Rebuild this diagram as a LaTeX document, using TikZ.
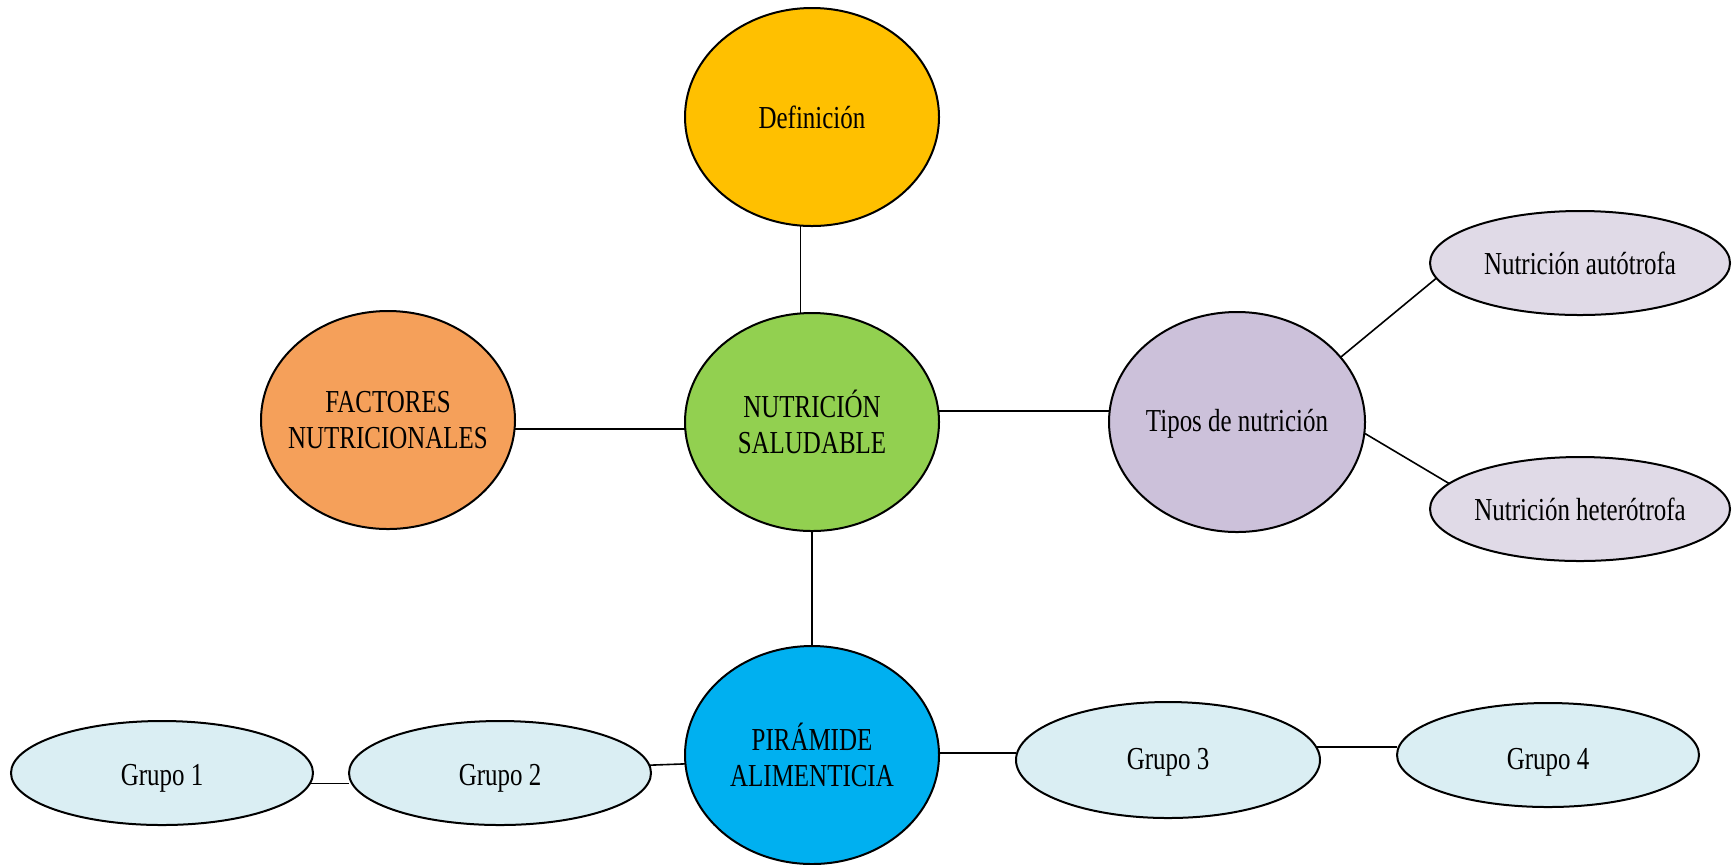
\documentclass[tikz,border=0pt]{standalone}
\usepackage{fontspec}
\setmainfont{Liberation Serif}[FakeStretch=0.78]
\usetikzlibrary{shapes.geometric}
\definecolor{cDef}{HTML}{FFC000}
\definecolor{cNut}{HTML}{92D050}
\definecolor{cFac}{HTML}{F5A05A}
\definecolor{cTip}{HTML}{CCC1DA}
\definecolor{cSub}{HTML}{E0DAE7}
\definecolor{cPir}{HTML}{00B0F0}
\definecolor{cGrp}{HTML}{DAEEF3}
\tikzset{
  bubble/.style={ellipse, draw=black, line width=1pt, inner sep=0pt, outer sep=0pt},
  lbl/.style={align=center, inner sep=0pt, font=\fontsize{16}{18}\selectfont},
  link/.style={draw=black, line width=0.8pt}
}
\begin{document}
\begin{tikzpicture}[x=0.5pt,y=-0.5pt]
\useasboundingbox (0,0) rectangle (1732,864);
% central topic and its branches
\node[bubble, fill=cDef, minimum width=127pt, minimum height=109pt,
  label={[lbl]center:Definición}] (def) at (812,117) {};
\node[bubble, fill=cNut, minimum width=127pt, minimum height=109pt,
  label={[lbl]center:{NUTRICIÓN\\SALUDABLE}}] (nut) at (812,422) {};
\node[bubble, fill=cFac, minimum width=127pt, minimum height=109pt,
  label={[lbl]center:{FACTORES\\NUTRICIONALES}}] (fac) at (388,420) {};
\node[bubble, fill=cTip, minimum width=128pt, minimum height=110pt,
  label={[lbl,yshift=-1pt]center:Tipos de nutrición}] (tip) at (1237,422) {};
\node[bubble, fill=cSub, minimum width=150pt, minimum height=52pt,
  label={[lbl]center:Nutrición autótrofa}] (aut) at (1580,263) {};
\node[bubble, fill=cSub, minimum width=150pt, minimum height=52pt,
  label={[lbl]center:Nutrición heterótrofa}] (het) at (1580,509) {};
\node[bubble, fill=cPir, minimum width=127pt, minimum height=109pt,
  label={[lbl]center:{PIRÁMIDE\\ALIMENTICIA}}] (pir) at (812,755) {};
% food groups
\node[bubble, fill=cGrp, minimum width=151pt, minimum height=52pt,
  label={[lbl,yshift=-2.5pt]center:Grupo 1}] (g1) at (162,773) {};
\node[bubble, fill=cGrp, minimum width=151pt, minimum height=52pt,
  label={[lbl,yshift=-2.5pt]center:Grupo 2}] (g2) at (500,773) {};
\node[bubble, fill=cGrp, minimum width=152pt, minimum height=58pt,
  label={[lbl,yshift=-1pt]center:Grupo 3}] (g3) at (1168,760) {};
\node[bubble, fill=cGrp, minimum width=151pt, minimum height=52pt,
  label={[lbl,yshift=-3.5pt]center:Grupo 4}] (g4) at (1548,755) {};
% connectors
\draw[link] (def.264) -- (def.264 |- nut.north);
\draw[link] (fac.-4) -- (fac.-4 -| nut.west);
\draw[link] (nut.5) -- (nut.5 -| tip.west);
\draw[link] (nut.south) -- (pir.north);
\draw[link] (tip.32) -- (aut.186);
\draw[link] (tip.-5) -- (het.169);
\draw[link] (g1.-4) -- (g1.-4 -| g2.west);
\draw[link] (g2.3) -- (pir.184);
\draw[link] (pir.1) -- (pir.1 -| g3.west);
\draw[link] (g3.5) -- (g3.5 -| g4.west);
\end{tikzpicture}
\end{document}
